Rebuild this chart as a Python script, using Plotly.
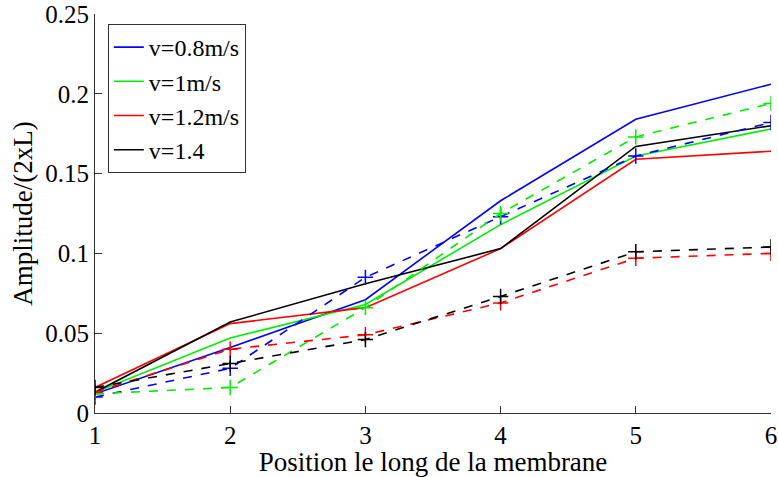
import plotly.graph_objects as go

positions = [1, 2, 3, 4, 5, 6]
labels = ["v=0.8m/s", "v=1m/s", "v=1.2m/s", "v=1.4"]
colors = ["#0000ff", "#00ee00", "#ff0000", "#000000"]

solid_08 = [0.012, 0.041, 0.071, 0.133, 0.184, 0.206]
solid_10 = [0.013, 0.047, 0.068, 0.118, 0.161, 0.178]
solid_12 = [0.016, 0.056, 0.066, 0.103, 0.159, 0.164]
solid_14 = [0.013, 0.057, 0.081, 0.103, 0.167, 0.180]

dash_08 = [0.010, 0.028, 0.085, 0.123, 0.161, 0.182]
dash_10 = [0.012, 0.016, 0.066, 0.125, 0.173, 0.194]
dash_12 = [0.013, 0.040, 0.049, 0.069, 0.097, 0.100]
dash_14 = [0.016, 0.031, 0.046, 0.073, 0.101, 0.104]

solids = [solid_08, solid_10, solid_12, solid_14]
dashes = [dash_08, dash_10, dash_12, dash_14]

fig = go.Figure()
for lab, col, ys in zip(labels, colors, solids):
    fig.add_trace(go.Scatter(x=positions, y=ys, mode="lines", name=lab,
                             line=dict(color=col, width=1.6)))
for lab, col, ys in zip(labels, colors, dashes):
    fig.add_trace(go.Scatter(x=positions, y=ys, mode="lines+markers", name=lab + " (dash)",
                             showlegend=False,
                             line=dict(color=col, width=1.6, dash="dash"),
                             marker=dict(symbol="cross-thin", size=11,
                                         line=dict(color=col, width=1.5))))

font = "Liberation Serif"
fig.update_layout(
    width=778, height=477,
    margin=dict(l=95, r=7, t=14, b=64),
    plot_bgcolor="white", paper_bgcolor="white",
    font=dict(family=font, size=25, color="black"),
    legend=dict(x=0.019, y=0.975, xanchor="left", yanchor="top",
                bordercolor="#333", borderwidth=1, bgcolor="white",
                font=dict(family=font, size=24), tracegroupgap=0,
                itemwidth=30),
    xaxis=dict(range=[1, 6], tickvals=[1, 2, 3, 4, 5, 6], ticks="inside", ticklen=7,
               showline=True, linecolor="#333", linewidth=1, tickcolor="#333",
               showgrid=False, zeroline=False, automargin=False,
               tickfont=dict(family=font, size=25),
               title=dict(text="Position le long de la membrane", standoff=2,
                          font=dict(family=font, size=27))),
    yaxis=dict(range=[0, 0.25], tickvals=[0, 0.05, 0.1, 0.15, 0.2, 0.25],
               ticktext=["0", "0.05", "0.1", "0.15", "0.2", "0.25"],
               ticks="inside", ticklen=7,
               showline=True, linecolor="#333", linewidth=1, tickcolor="#333",
               showgrid=False, zeroline=False, automargin=False,
               tickfont=dict(family=font, size=25),
               title=dict(text="Amplitude/(2xL)", standoff=4,
                          font=dict(family=font, size=27))),
)
fig.write_html("out.html")
